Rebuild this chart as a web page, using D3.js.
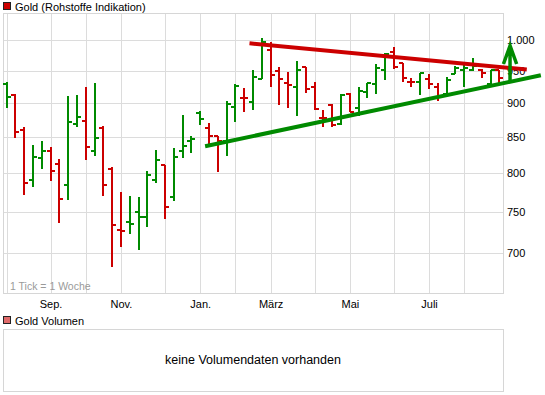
<!DOCTYPE html>
<html lang="de">
<head>
<meta charset="utf-8">
<title>Gold (Rohstoffe Indikation)</title>
<script src="https://d3js.org/d3.v7.min.js"></script>
<style>
  body { margin:0; background:#fff; }
  svg { display:block; font-family:"Liberation Sans", Arial, sans-serif; }
  .grid .domain { display:none; }
  .grid line { stroke:#dcdcdc; shape-rendering:crispEdges; }
  .grid text { font-size:11px; fill:#000; }
  .frame { fill:none; stroke:#d6d6d6; shape-rendering:crispEdges; }
  .bar line { stroke-width:2; shape-rendering:crispEdges; }
  .legend { font-size:11px; fill:#000; }
</style>
</head>
<body>
<script>
// weekly OHLC, first week starts Mon 28.07.2008
var opens  = [929,912,860,791,820,830,812,784,869,873,830,863,806,727,737,749,743,791,811,768,
              830,845,885,863,851,845,894,907,901,937,984,949,931,924,956,924,877,897,869,914,
              892,917,929,952,980,963,932,932,937,924,914,945,952,952,952,929,952];
var highs  = [932,914,865,839,845,836,819,911,912,925,931,866,808,775,770,769,803,832,811,835,
              882,851,888,870,851,903,929,923,952,1004,997,956,948,966,956,932,889,899,914,915,
              924,931,961,979,989,963,938,947,945,931,940,957,961,970,953,952,952];
var lows   = [892,849,771,782,806,789,736,764,864,818,824,770,683,707,722,703,731,787,741,763,
              820,828,867,837,801,824,872,887,889,937,924,897,892,881,916,890,864,864,867,886,
              881,907,914,936,953,933,925,912,921,903,910,945,925,950,938,929,931];
var closes = [909,857,787,822,830,803,766,872,879,836,848,784,733,726,735,743,797,818,756,822,
              837,847,876,851,844,899,926,908,940,997,944,937,927,951,922,891,877,867,912,886,
              918,931,955,978,956,939,932,946,929,911,935,954,955,957,946,952,939];
var priorClose = 902;

var monthTicks  = ["2008-08-01","2008-09-01","2008-10-01","2008-11-01","2008-12-01","2009-01-01",
                   "2009-02-01","2009-03-01","2009-04-01","2009-05-01","2009-06-01","2009-07-01","2009-08-01"];
var monthLabels = ["","Sep.","","Nov.","","Jan.","","März","","Mai","","Juli",""];
var priceTicks  = [700,750,800,850,900,950,1000];

// trend lines and arrow (week index, price)
var redTrend   = [{week:27.6, price:995}, {week:59.1, price:952}];
var greenTrend = [{week:22.56, price:837}, {week:60.7, price:943}];
var arrowUp    = {week:57.2, from:933, to:991, wing:961, half:0.75};

var w = 545, h = 395;
var plot = {left:3, top:13, right:503, bottom:293};
var weekStart = Date.UTC(2008, 6, 28);
function wk(i) { return new Date(weekStart + i * 7 * 864e5); }

var x = d3.scaleUtc().domain([wk(-0.4), wk(56.4)]).range([plot.left, plot.right]);
var y = d3.scaleLog().domain([654, 1047]).range([plot.bottom, plot.top]);
var green = '#008a00', red = '#cc0000';
var de = d3.formatLocale({decimal:",", thousands:".", grouping:[3], currency:["","€"]});

var svg = d3.select('body').append('svg')
    .attr('width', w)
    .attr('height', h);

// legend
svg.append('rect').attr('x', 3.5).attr('y', 2.5).attr('width', 7).attr('height', 7)
    .attr('fill', red).attr('stroke', '#222');
svg.append('text').attr('class', 'legend').attr('x', 15).attr('y', 10.5)
    .text('Gold (Rohstoffe Indikation)');

// grids + axes
var gridDates = monthTicks.map(function(s) { return d3.utcMonday.floor(new Date(s + 'T00:00:00Z')); });
var xAxis = d3.axisBottom(x).tickValues(gridDates)
    .tickSize(-(plot.bottom - plot.top)).tickPadding(7)
    .tickFormat(function(d, i) { return monthLabels[i]; });
svg.append('g').attr('class', 'grid')
    .attr('transform', 'translate(0,' + plot.bottom + ')')
    .call(xAxis);

var yAxis = d3.axisRight(y).tickValues(priceTicks)
    .tickSize(-(plot.right - plot.left)).tickPadding(4)
    .tickFormat(de.format(','));
svg.append('g').attr('class', 'grid')
    .attr('transform', 'translate(' + plot.right + ',0)')
    .call(yAxis);

svg.append('rect').attr('class', 'frame')
    .attr('x', plot.left).attr('y', plot.top)
    .attr('width', plot.right - plot.left).attr('height', plot.bottom - plot.top);

svg.append('text').attr('x', 10).attr('y', 289.5)
    .attr('font-size', '10.5px').attr('fill', '#9a9a9a')
    .text('1 Tick = 1 Woche');

// OHLC bars
var bars = opens.map(function(o, i) {
  var prev = i === 0 ? priorClose : closes[i - 1];
  return {i:i, o:o, h:highs[i], l:lows[i], c:closes[i], up: closes[i] >= prev};
});
var g = svg.selectAll('.bar')
  .data(bars)
  .enter().append('g')
    .attr('class', 'bar')
    .style('stroke', function(d) { return d.up ? green : red; });
g.append('line')
    .attr('x1', function(d) { return x(wk(d.i)); })
    .attr('x2', function(d) { return x(wk(d.i)); })
    .attr('y1', function(d) { return y(d.h); })
    .attr('y2', function(d) { return y(d.l); });
g.append('line')
    .attr('x1', function(d) { return x(wk(d.i)) - 4; })
    .attr('x2', function(d) { return x(wk(d.i)); })
    .attr('y1', function(d) { return y(d.o); })
    .attr('y2', function(d) { return y(d.o); });
g.append('line')
    .attr('x1', function(d) { return x(wk(d.i)); })
    .attr('x2', function(d) { return x(wk(d.i)) + 4; })
    .attr('y1', function(d) { return y(d.c); })
    .attr('y2', function(d) { return y(d.c); });

// trend lines
var line = d3.line()
    .x(function(d) { return x(wk(d.week)); })
    .y(function(d) { return y(d.price); });
svg.append('path').datum(greenTrend).attr('d', line)
    .attr('fill', 'none').attr('stroke', green).attr('stroke-width', 4);
svg.append('path').datum(redTrend).attr('d', line)
    .attr('fill', 'none').attr('stroke', red).attr('stroke-width', 4);

// arrow
var ax = x(wk(arrowUp.week));
svg.append('path')
    .attr('d', 'M' + ax + ',' + y(arrowUp.from) + 'V' + y(arrowUp.to) +
      'M' + x(wk(arrowUp.week - arrowUp.half)) + ',' + y(arrowUp.wing) +
      'L' + ax + ',' + y(arrowUp.to) +
      'L' + x(wk(arrowUp.week + arrowUp.half)) + ',' + y(arrowUp.wing))
    .attr('fill', 'none').attr('stroke', green).attr('stroke-width', 3.5);

// volume panel
svg.append('rect').attr('x', 3.5).attr('y', 316.5).attr('width', 7).attr('height', 7)
    .attr('fill', '#e06a6a').attr('stroke', '#222');
svg.append('text').attr('class', 'legend').attr('x', 15).attr('y', 324.5)
    .text('Gold Volumen');
svg.append('rect').attr('class', 'frame')
    .attr('x', plot.left).attr('y', 329)
    .attr('width', plot.right - plot.left).attr('height', 62);
svg.append('text').attr('x', 253).attr('y', 363.5)
    .attr('text-anchor', 'middle').attr('font-size', '12.5px').attr('fill', '#000')
    .text('keine Volumendaten vorhanden');
</script>
</body>
</html>
